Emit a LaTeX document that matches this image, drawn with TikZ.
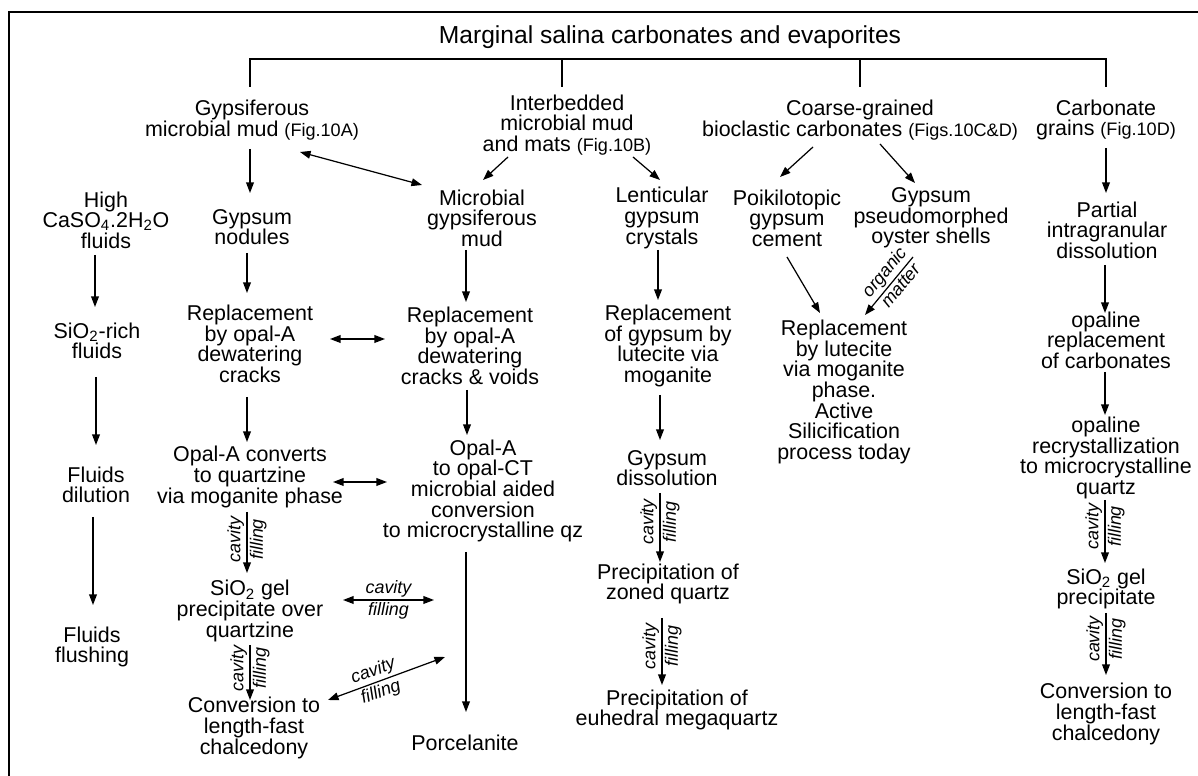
\documentclass[tikz,border=0pt]{standalone}
\usepackage{fontspec}
\setmainfont{Liberation Sans}
\usetikzlibrary{arrows.meta}
\newcommand\mainsz{\fontsize{12.2}{11.75}\selectfont}
\newcommand\titlesz{\fontsize{14}{16}\selectfont}
\newcommand\figsz{\fontsize{10.3}{11}\selectfont}
\newcommand\cavsz{\fontsize{10.2}{11}\selectfont\itshape}
\tikzset{
  box/.style={font=\mainsz, align=center, inner sep=0pt},
  tip/.tip={Triangle[length=6pt,width=4.4pt]},
  arr/.style={-tip, line width=0.7pt},
  darr/.style={tip-tip, line width=0.7pt},
  lab/.style={font=\cavsz, inner sep=1.3pt},
  treeline/.style={line width=0.7pt},
  frameline/.style={line width=1.2pt}
}
\begin{document}
\begin{tikzpicture}[x=0.02cm,y=-0.02cm]
\useasboundingbox (0,0) rectangle (1198,776);
\fill[white] (0,0) rectangle (1198,776);
\draw[frameline] (9,776) -- (9,12) -- (1198,12);

% title and first level
\node[box,font=\titlesz] (title) at (670,37) {Marginal salina carbonates and evaporites};
\node[box] (gyp) at (252,120) {Gypsiferous\\microbial mud {\figsz(Fig.10A)}};
\node[box] (inter) at (567,125) {Interbedded\\microbial mud\\and mats {\figsz(Fig.10B)}};
\node[box] (coarse) at (860,120) {Coarse-grained\\bioclastic carbonates {\figsz(Figs.10C\&D)}};
\node[box] (carb) at (1106,120) {Carbonate\\grains {\figsz(Fig.10D)}};

% second level
\node[box] (high) at (106,220) {High\\CaSO\textsubscript{4}.2H\textsubscript{2}O\\fluids};
\node[box] (gn) at (252,227) {Gypsum\\nodules};
\node[box] (mgm) at (482,218) {Microbial\\gypsiferous\\mud};
\node[box] (lent) at (662,218) {Lenticular\\gypsum\\crystals};
\node[box] (poik) at (787,218) {Poikilotopic\\gypsum\\cement};
\node[box] (gpo) at (931,218) {Gypsum\\pseudomorphed\\oyster shells};
\node[box] (part) at (1107,230) {Partial\\intragranular\\dissolution};

% left column
\node[box] (sio) at (97,341) {SiO\textsubscript{2}-rich\\fluids};
\node[box] (fdil) at (96,485) {Fluids\\dilution};
\node[box] (ffl) at (92,647) {Fluids\\flushing};

% column 2
\node[box] (rep1) at (250,344) {Replacement\\by opal-A\\dewatering\\cracks};
\node[box] (oac) at (250,477) {Opal-A converts\\to quartzine\\via moganite phase};
\node[box] (gel1) at (250,611) {SiO\textsubscript{2} gel\\precipitate over\\quartzine};
\node[box] (conv1) at (254,728) {Conversion to\\length-fast\\chalcedony};

% column 3
\node[box] (rep2) at (470,346) {Replacement\\by opal-A\\dewatering\\cracks \& voids};
\node[box] (oct) at (483,491) {Opal-A\\to opal-CT\\microbial aided\\conversion\\to microcrystalline qz};
\node[box] (porc) at (465,743) {Porcelanite};

% column 4
\node[box] (rep3) at (668,346) {Replacement\\of gypsum by\\lutecite via\\moganite};
\node[box] (gdis) at (667,468) {Gypsum\\dissolution};
\node[box] (pz) at (668,584) {Precipitation of\\zoned quartz};
\node[box] (pe) at (677,710) {Precipitation of\\euhedral megaquartz};

% column 5
\node[box] (rep4) at (844,392) {Replacement\\by lutecite\\via moganite\\phase.\\Active\\Silicification\\process today};

% column 6
\node[box] (opr) at (1106,340) {opaline\\replacement\\of carbonates};
\node[box] (orc) at (1106,458) {opaline\\recrystallization\\to microcrystalline\\quartz};
\node[box] (gel2) at (1106,589) {SiO\textsubscript{2} gel\\precipitate};
\node[box] (conv2) at (1106,714) {Conversion to\\length-fast\\chalcedony};

% tree
\draw[treeline] ([shift={(-2,-33)}]gyp.center) -- ++(0,-28) -| ([shift={(0,-33)}]carb.center);
\draw[treeline] ([shift={(-5,-38)}]inter.center) -- ++(0,-28);
\draw[treeline] ([shift={(0,-33)}]coarse.center) -- ++(0,-28);

% first level arrows
\draw[arr] ([shift={(-2,29)}]gyp.center) -- ([shift={(-2,-34)}]gn.center);
\draw[darr] ([shift={(48,32)}]gyp.center) -- ([shift={(-60,-33)}]mgm.center);
\draw[arr] ([shift={(-59,32)}]inter.center) -- ([shift={(1,-38)}]mgm.center);
\draw[arr] ([shift={(66,32)}]inter.center) -- ([shift={(-2,-38)}]lent.center);
\draw[arr] ([shift={(-47,27)}]coarse.center) -- ([shift={(-7,-41)}]poik.center);
\draw[arr] ([shift={(20,24)}]coarse.center) -- ([shift={(-16,-35)}]gpo.center);
\draw[arr] ([shift={(0,28)}]carb.center) -- ([shift={(-1,-37)}]part.center);

% left column
\draw[arr] ([shift={(-11,35)}]high.center) -- ([shift={(-2,-34)}]sio.center);
\draw[arr] ([shift={(-1,36)}]sio.center) -- ([shift={(0,-40)}]fdil.center);
\draw[arr] ([shift={(-3,32)}]fdil.center) -- ([shift={(1,-42)}]ffl.center);

% column 2
\draw[arr] ([shift={(-5,26)}]gn.center) -- ([shift={(-3,-51)}]rep1.center);
\draw[darr] ([shift={(80,-5)}]rep1.center) -- ([shift={(-85,-7)}]rep2.center);
\draw[arr] ([shift={(-3,53)}]rep1.center) -- ([shift={(-3,-35)}]oac.center);
\draw[darr] ([shift={(83,5)}]oac.center) -- ([shift={(-96,-9)}]oct.center);
\draw[arr] ([shift={(-3,35)}]oac.center) -- ([shift={(-3,-38)}]gel1.center)
  node[lab,pos=0.45,rotate=90,anchor=south] {cavity}
  node[lab,pos=0.45,rotate=90,anchor=north] {filling};
\draw[arr] ([shift={(0,34)}]gel1.center) -- ([shift={(-4,-28)}]conv1.center)
  node[lab,pos=0.42,rotate=90,anchor=south] {cavity}
  node[lab,pos=0.42,rotate=90,anchor=north] {filling};
\draw[darr] ([shift={(93,-11)}]gel1.center) -- ([shift={(-49,109)}]oct.center)
  node[lab,midway,above] {cavity}
  node[lab,midway,below] {filling};
\draw[darr] ([shift={(74,-28)}]conv1.center) -- ([shift={(-38,166)}]oct.center)
  node[lab,pos=0.42,sloped,above] {cavity}
  node[lab,pos=0.42,sloped,below] {filling};

% column 3
\draw[arr] ([shift={(-16,32)}]mgm.center) -- ([shift={(-4,-44)}]rep2.center);
\draw[arr] ([shift={(-3,44)}]rep2.center) -- ([shift={(-16,-56)}]oct.center);
\draw[arr] ([shift={(-17,61)}]oct.center) -- ([shift={(1,-31)}]porc.center);

% column 4
\draw[arr] ([shift={(-4,32)}]lent.center) -- ([shift={(-10,-46)}]rep3.center);
\draw[arr] ([shift={(-8,49)}]rep3.center) -- ([shift={(-7,-28)}]gdis.center);
\draw[arr] ([shift={(-7,25)}]gdis.center) -- ([shift={(-8,-22)}]pz.center)
  node[lab,pos=0.42,rotate=90,anchor=south] {cavity}
  node[lab,pos=0.42,rotate=90,anchor=north] {filling};
\draw[arr] ([shift={(-6,34)}]pz.center) -- ([shift={(-15,-25)}]pe.center)
  node[lab,pos=0.42,rotate=90,anchor=south] {cavity}
  node[lab,pos=0.42,rotate=90,anchor=north] {filling};

% column 5
\draw[arr] ([shift={(0,39)}]poik.center) -- ([shift={(-24,-79)}]rep4.center);
\draw[arr] ([shift={(-18,39)}]gpo.center) -- ([shift={(21,-77)}]rep4.center)
  node[lab,pos=0.4,sloped,above] {organic}
  node[lab,pos=0.4,sloped,below] {matter};

% column 6
\draw[arr] ([shift={(-2,35)}]part.center) -- ([shift={(-1,-27)}]opr.center);
\draw[arr] ([shift={(-1,32)}]opr.center) -- ([shift={(-1,-43)}]orc.center);
\draw[arr] ([shift={(-1,42)}]orc.center) -- ([shift={(-1,-26)}]gel2.center)
  node[lab,pos=0.42,rotate=90,anchor=south] {cavity}
  node[lab,pos=0.42,rotate=90,anchor=north] {filling};
\draw[arr] ([shift={(0,24)}]gel2.center) -- ([shift={(0,-39)}]conv2.center)
  node[lab,pos=0.42,rotate=90,anchor=south] {cavity}
  node[lab,pos=0.42,rotate=90,anchor=north] {filling};
\end{tikzpicture}
\end{document}
